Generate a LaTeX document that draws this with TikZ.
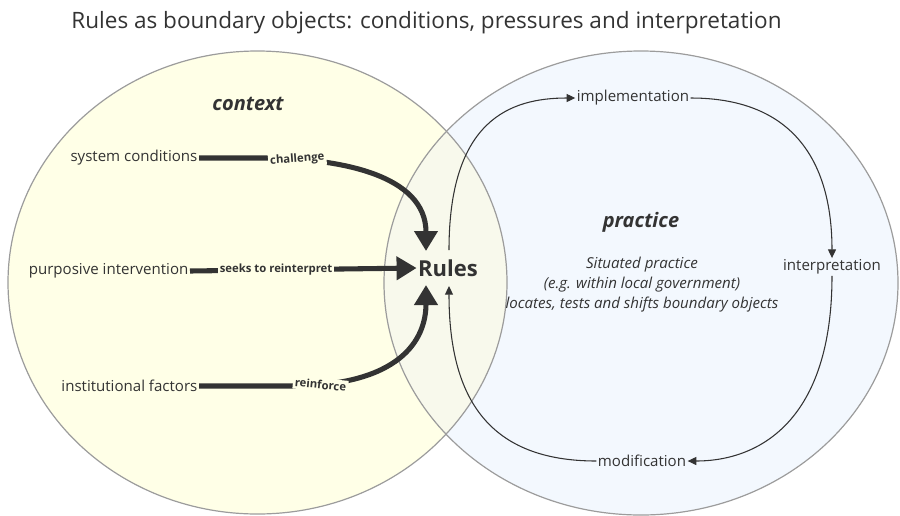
\documentclass[tikz,border=0pt]{standalone}
\usepackage{fontspec}
\setmainfont{Open Sans}
\usetikzlibrary{arrows.meta}

\definecolor{ctxfill}{HTML}{FFFFE7}
\definecolor{pracfill}{HTML}{F3F8FE}
\definecolor{mixfill}{HTML}{F8F9EC}
\definecolor{rim}{HTML}{9C9C9C}
\definecolor{ink}{HTML}{333333}

\begin{document}
\begin{tikzpicture}[x=0.75pt,y=0.75pt,yscale=-1,xscale=1,
  rimline/.style={draw=rim, line width=0.9pt},
  push/.style={draw=ink, line width=3.8pt, -{Triangle[width=17pt,length=15pt]}},
  loop/.style={draw=ink, line width=0.8pt, -{Triangle[width=6pt,length=6.5pt]}},
  lbl/.style={font=\bfseries\fontsize{8.5}{10}\selectfont, text=ink, fill=ctxfill, inner sep=1.5pt},
  item/.style={font=\fontsize{11.3}{13}\selectfont, text=ink, inner sep=1pt}]
\useasboundingbox (0,0) rectangle (900,515);

% the two fields and their overlap
\fill[ctxfill] (257.5,282.5) ellipse [x radius=249.5, y radius=231.5];
\fill[pracfill] (641,283) ellipse [x radius=257, y radius=232];
\begin{scope}
\clip (257.5,282.5) ellipse [x radius=249.5, y radius=231.5];
\fill[mixfill] (641,283) ellipse [x radius=257, y radius=232];
\end{scope}
\draw[rimline] (257.5,282.5) ellipse [x radius=249.5, y radius=231.5];
\draw[rimline] (641,283) ellipse [x radius=257, y radius=232];

% headings
\node (title) at (426.5,23) [font=\fontsize{16.9}{20}\selectfont, text=ink] {Rules as boundary objects: conditions, pressures and interpretation};
\node (context) at (248,104) [font=\bfseries\itshape\fontsize{15}{18}\selectfont, text=ink] {context};
\node (practice) at (641,222) [font=\bfseries\itshape\fontsize{15}{18}\selectfont, text=ink] {practice};

% context side
\node (sys) at (199,158) [item, anchor=east] {system conditions};
\node (purp) at (190,271) [item, anchor=east] {purposive intervention};
\node (inst) at (199,386) [item, anchor=east] {institutional factors};

\node (rules) at (448,268) [font=\bfseries\fontsize{16.5}{19}\selectfont, text=ink, inner sep=1pt] {Rules};
\coordinate (chalTip) at (426,251);
\coordinate (reinTip) at (426,285);
\coordinate (loopOut) at (449,250);
\coordinate (loopIn) at (449,286);

\draw[push] (sys.east) -- (262,158) .. controls (340,158) and (426,175) .. (chalTip)
  node[lbl, pos=0.15, sloped] {challenge};
\draw[push] (purp.east) -- (rules.west) node[lbl, pos=0.38] {seeks to reinterpret};
\draw[push] (inst.east) -- (290,386) .. controls (400,386) and (426,340) .. (reinTip)
  node[lbl, pos=0.1, sloped] {reinforce};

% practice side
\node (situated) at (642,285) [font=\itshape\fontsize{11.3}{15}\selectfont, text=ink, align=center] {Situated practice\\(e.g. within local government)\\locates, tests and shifts boundary objects};

\node (impl) at (633,98) [item] {implementation};
\node (interp) at (832,267) [item] {interpretation};
\node (modif) at (642,461) [item] {modification};

\draw[loop] (loopOut) .. controls (449,120) and (510,98) .. (impl.west);
\draw[loop] (impl.east) .. controls (800,98) and (832,170) .. (interp.north);
\draw[loop] (interp.south) .. controls (832,420) and (760,461) .. (modif.east);
\draw[loop] (modif.west) .. controls (490,461) and (449,400) .. (loopIn);
\end{tikzpicture}
\end{document}
